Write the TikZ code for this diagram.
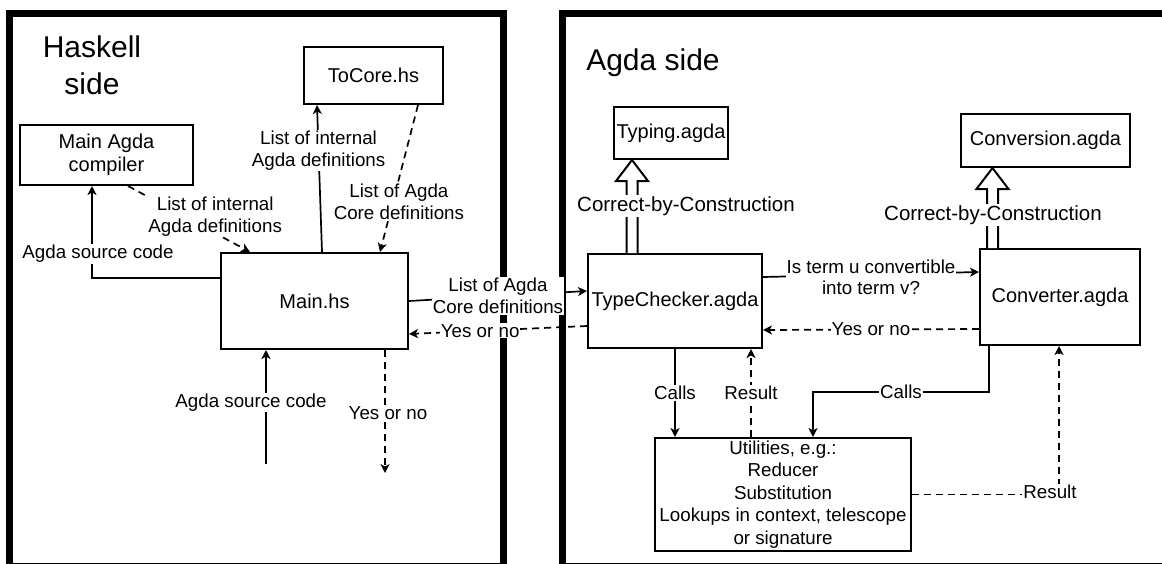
\documentclass[tikz,border=0pt]{standalone}
\usepackage{fontspec}
\setmainfont{Liberation Sans}
\usetikzlibrary{arrows.meta,calc}

% hollow arrow going up from #1 to #2
\newcommand{\flexarrow}[2]{%
  \draw[line width=2pt, fill=white, line join=miter]
    let \p1=(#1), \p2=(#2) in
    (\x1-5.5pt,\y1) -- (\x1-5.5pt,\y2-21pt) -- (\x1-16pt,\y2-21pt) -- (\x1,\y2)
    -- (\x1+16pt,\y2-21pt) -- (\x1+5.5pt,\y2-21pt) -- (\x1+5.5pt,\y1);
}

\begin{document}
\begin{tikzpicture}[x=1pt, y=-1pt]

% Styles
\tikzset{
    panel/.style={draw, line width=7pt},
    box/.style={draw, line width=2pt, inner sep=0pt, align=center, font=\fontsize{20}{23}\selectfont},
    lbl/.style={fill=white, inner sep=1pt, align=center, font=\fontsize{18.75}{21.5}\selectfont},
    cbc/.style={fill=white, inner sep=1pt, font=\fontsize{20.5}{24}\selectfont},
    title/.style={align=center, font=\fontsize{30}{37}\selectfont},
    conn/.style={line width=1.7pt, -{Stealth[length=9pt, width=9pt, inset=2.5pt]}},
    dconn/.style={conn, dash pattern=on 7pt off 5pt}
}

\useasboundingbox (0,0) rectangle (1162,563);

% Sides
\draw[panel] (9,13.5) rectangle (503,566);
\draw[panel] (562,13.5) rectangle (1172,566);
\node[title] (haskell) at (92,65){Haskell\\side};
\node[title] (agda) at (653,63){Agda side};

% Haskell files
\node[box, minimum width=139pt, minimum height=57pt] (tocore) at (373.5,75.5){ToCore.hs};
\node[box, minimum width=173pt, minimum height=60pt] (compiler) at (106.5,155){Main Agda\\compiler};
\node[box, minimum width=187pt, minimum height=96pt] (mainhs) at (314.5,301){Main.hs};

% Agda files
\node[box, minimum width=114pt, minimum height=52pt] (typing) at (671,133){Typing.agda};
\node[box, minimum width=169pt, minimum height=53pt] (conversion) at (1045.5,140.5){Conversion.agda};
\node[box, minimum width=174pt, minimum height=94pt] (typechk) at (675,301){TypeChecker.agda};
\node[box, minimum width=160pt, minimum height=96pt] (converter) at (1060,297){Converter.agda};
\node[box, minimum width=256pt, minimum height=113pt, font=\fontsize{18.75}{22.5}\selectfont] (utils) at (783,494.5){Utilities, e.g.:\\Reducer\\Substitution\\Lookups in context, telescope\\or signature};

% Connection, Haskell side
\draw[conn] ([yshift=23pt]mainhs.west) -| node[lbl, pos=0.63, xshift=6pt]{Agda source code} ([xshift=-14.5pt]compiler.south);
\draw[dconn] ([xshift=21.5pt]compiler.south) -- node[lbl, pos=0.6, xshift=14pt, yshift=9pt]{List of internal\\Agda definitions} ([xshift=-64.5pt]mainhs.north);
\draw[conn] ([xshift=7.5pt]mainhs.north) -- node[lbl, pos=0.69]{List of internal\\Agda definitions} ([xshift=-56.5pt]tocore.south);
\draw[dconn] ([xshift=44.5pt]tocore.south) -- node[lbl, pos=0.66, xshift=6pt]{List of Agda\\Core definitions} ([xshift=65.5pt]mainhs.north);

\coordinate (srcin) at (266,464);
\coordinate (answer) at (385,473);
\draw[conn] (srcin) -- node[lbl, pos=0.54, xshift=-15pt]{Agda source code} ([xshift=-48.5pt]mainhs.south);
\draw[dconn] ([xshift=70.5pt]mainhs.south) -- node[lbl, pos=0.51, xshift=3pt]{Yes or no} (answer);

% Connection, across
\draw[conn] (mainhs.east) -- node[lbl]{List of Agda\\Core definitions} ([yshift=10pt]typechk.west);
\draw[dconn] ([yshift=-25pt]typechk.west) -- node[lbl, pos=0.6]{Yes or no} ([yshift=-33pt]mainhs.east);

% Connection, Agda side
\flexarrow{[xshift=-43pt]typechk.north}{typing.south}
\flexarrow{[xshift=-67.5pt]converter.north}{conversion.south}
\node[cbc] (cbc1) at (686,206){Correct-by-Construction};
\node[cbc] (cbc2) at (993,215){Correct-by-Construction};

\draw[conn] ([yshift=24pt]typechk.east) -- node[lbl, yshift=-3pt]{Is term u convertible\\into term v?} ([yshift=25pt]converter.west);
\draw[dconn] ([yshift=-32pt]converter.west) -- node[lbl]{Yes or no} ([yshift=-29pt]typechk.east);

\draw[conn] (typechk.south) -- node[lbl]{Calls} (typechk.south |- utils.north);
\draw[dconn] ([xshift=-32pt]utils.north) -- node[lbl]{Result} ([xshift=-32pt]utils.north |- typechk.south);
\draw[conn] ([xshift=-71pt]converter.south) -- ++(0,46) -| node[lbl, pos=0.25]{Calls} ([xshift=30pt]utils.north);
\draw[dconn] (utils.east) -| node[lbl, pos=0.5, xshift=-9pt, yshift=3pt]{Result} ([xshift=-1pt]converter.south);

\end{tikzpicture}
\end{document}
